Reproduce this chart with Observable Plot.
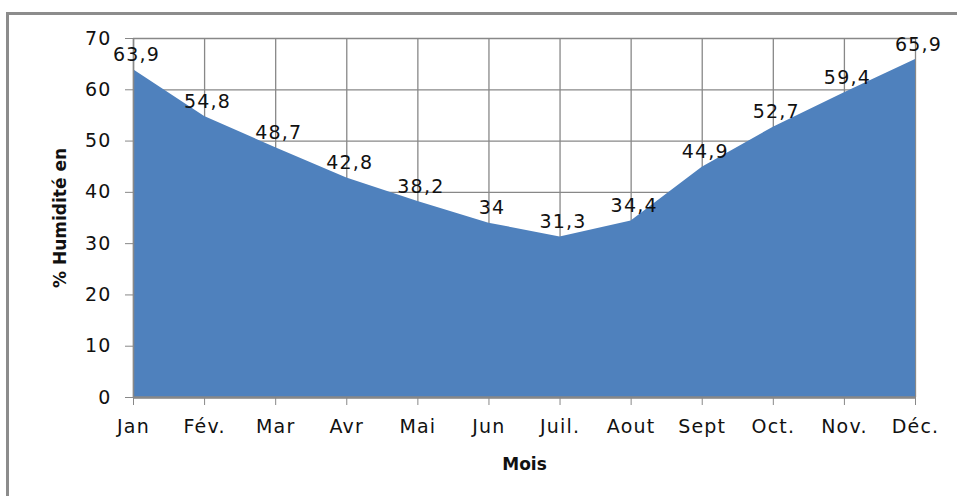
<!DOCTYPE html>
<html>
<head>
<meta charset="utf-8">
<script src="https://cdn.jsdelivr.net/npm/d3@7"></script>
<script src="https://cdn.jsdelivr.net/npm/@observablehq/plot@0.6"></script>
<style>
  html, body { margin: 0; padding: 0; background: #fff; }
  #wrap { position: relative; width: 957px; height: 496px; overflow: hidden; }
  #frame { position: absolute; left: 6px; top: 12px; width: 1000px; height: 600px;
           border-left: 3px solid #8c8c8c; border-top: 3px solid #8c8c8c; box-sizing: border-box; }
  #chart { position: absolute; left: 0; top: 0; }
  #chart svg text { letter-spacing: 1.2px; }
</style>
</head>
<body>
<div id="wrap"><div id="frame"></div><div id="chart"></div></div>
<script>
const months = ["Jan", "Fév.", "Mar", "Avr", "Mai", "Jun", "Juil.", "Aout", "Sept", "Oct.", "Nov.", "Déc."];
const humidity = [63.9, 54.8, 48.7, 42.8, 38.2, 34, 31.3, 34.4, 44.9, 52.7, 59.4, 65.9];
const yTicks = [0, 10, 20, 30, 40, 50, 60, 70];

const data = months.map((m, i) => ({i, month: m, value: humidity[i]}));
const fmt = v => String(v).replace(".", ",");
const idx = months.map((_, i) => i);

const plot = Plot.plot({
  width: 957,
  height: 496,
  marginLeft: 133,
  marginRight: 42,
  marginTop: 38,
  marginBottom: 99,
  style: {fontFamily: "DejaVu Sans", fontSize: "19px", color: "#111", background: "transparent"},
  x: {type: "linear", domain: [0, 11]},
  y: {domain: [0, 70]},
  marks: [
    Plot.gridX(idx, {stroke: "#888", strokeOpacity: 1, strokeWidth: 1.3}),
    Plot.gridY(yTicks, {stroke: "#888", strokeOpacity: 1, strokeWidth: 1.3}),
    Plot.areaY(data, {x: "i", y: "value", fill: "#4F81BD"}),
    Plot.ruleY([0], {stroke: "#888", strokeWidth: 2.5}),
    Plot.ruleX([0], {stroke: "#888", strokeWidth: 1.5}),
    Plot.axisY({ticks: yTicks, tickSize: 8, tickPadding: 14, stroke: "#888", fontSize: 19,
      label: "% Humidité en", labelAnchor: "center", labelArrow: "none", labelOffset: 80}),
    Plot.axisX({ticks: idx, tickFormat: i => months[i], tickSize: 8, tickPadding: 14, stroke: "#888", fontSize: 19,
      label: "Mois", labelAnchor: "center", labelArrow: "none", labelOffset: 72}),
    Plot.text(data, {x: "i", y: "value", text: d => fmt(d.value), dy: -15, dx: 3, fontSize: 19, fill: "#111"})
  ]
});
plot.querySelectorAll("[aria-label='y-axis label'] text, [aria-label='x-axis label'] text").forEach(t => {
  t.style.fontWeight = "bold";
  t.style.fontSize = "17px";
  t.style.letterSpacing = "0px";
});
document.getElementById("chart").appendChild(plot);
</script>
</body>
</html>
